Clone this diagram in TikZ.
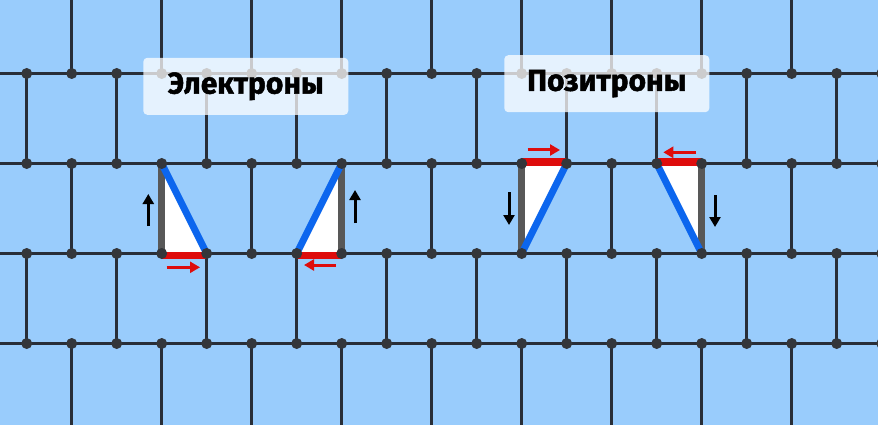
\documentclass[tikz,border=0pt]{standalone}
\usepackage{fontspec}
\setmainfont{Fira Sans}
\newfontfamily\labelfont{Fira Sans Bold}[FakeBold=1.6]
\usetikzlibrary{arrows.meta}
\definecolor{bg}{RGB}{153,204,252}
\definecolor{gridc}{RGB}{40,46,56}
\definecolor{dotc}{RGB}{52,54,58}
\definecolor{edgegray}{RGB}{88,88,88}
\definecolor{eblue}{RGB}{12,102,238}
\definecolor{ered}{RGB}{222,12,12}
\begin{document}
\begin{tikzpicture}[x=1pt,y=-1pt,
  gridline/.style={draw=gridc, line width=2.6pt},
  dot/.style={circle, fill=dotc, inner sep=0pt, minimum size=11pt},
  grayedge/.style={draw=edgegray, line width=7pt},
  blueedge/.style={draw=eblue, line width=7pt},
  rededge/.style={draw=ered, line width=7pt},
  blackarrow/.style={draw=black, line width=3pt, -{Triangle[length=10pt,width=11pt]}},
  redarrow/.style={draw=ered, line width=3pt, -{Triangle[length=10pt,width=11pt]}},
  label/.style={fill=white, fill opacity=0.75, text opacity=1, rounded corners=4pt,
    minimum width=205pt, minimum height=57pt, inner sep=0pt,
    font=\labelfont\fontsize{30}{30}\selectfont}]
\fill[bg] (0,0) rectangle (878,425);
\useasboundingbox (0,0) rectangle (878,425);
% lattice points
\foreach \i in {0,...,19}
  \foreach \j in {0,...,3}
    \coordinate (p\i-\j) at ({26.7+45*\i},{73.5+90*\j});
\foreach \i in {0,...,19} {
  \coordinate (t\i) at ({26.7+45*\i},0);
  \coordinate (b\i) at ({26.7+45*\i},425);
}
% horizontal lines
\foreach \j in {0,...,3}
  \draw[gridline] (0,{73.5+90*\j}) -- (878,{73.5+90*\j});
% vertical segments (brick pattern)
\foreach \i in {1,3,...,19} {
  \draw[gridline] (t\i) -- (p\i-0);
  \draw[gridline] (p\i-1) -- (p\i-2);
  \draw[gridline] (p\i-3) -- (b\i);
}
\foreach \i in {0,2,...,18} {
  \draw[gridline] (p\i-0) -- (p\i-1);
  \draw[gridline] (p\i-2) -- (p\i-3);
}
% electron 1
\fill[white] (p3-1) -- (p3-2) -- (p4-2) -- cycle;
\draw[grayedge] (p3-1) -- (p3-2);
\draw[blueedge] (p3-1) -- (p4-2);
\draw[rededge] ([yshift=-1.5pt]p3-2) -- ([yshift=-1.5pt]p4-2);
% electron 2
\fill[white] (p7-1) -- (p7-2) -- (p6-2) -- cycle;
\draw[grayedge] (p7-1) -- (p7-2);
\draw[blueedge] (p7-1) -- (p6-2);
\draw[rededge] ([yshift=-1.5pt]p6-2) -- ([yshift=-1.5pt]p7-2);
% positron 1
\fill[white] (p11-1) -- (p12-1) -- (p11-2) -- cycle;
\draw[grayedge] (p11-1) -- (p11-2);
\draw[blueedge] (p12-1) -- (p11-2);
\draw[rededge] ([yshift=1.5pt]p11-1) -- ([yshift=1.5pt]p12-1);
% positron 2
\fill[white] (p14-1) -- (p15-1) -- (p15-2) -- cycle;
\draw[grayedge] (p15-1) -- (p15-2);
\draw[blueedge] (p14-1) -- (p15-2);
\draw[rededge] ([yshift=1.5pt]p14-1) -- ([yshift=1.5pt]p15-1);
% dots
\foreach \i in {0,...,19}
  \foreach \j in {0,...,3}
    \node[dot] (d\i-\j) at (p\i-\j) {};
% arrows
\coordinate (ea1) at (148.3,226); \coordinate (ea2) at (148.3,194);
\coordinate (er1) at (166.7,267.3); \coordinate (er2) at (200,267.3);
\coordinate (fa1) at (355,223); \coordinate (fa2) at (355,190);
\coordinate (fr1) at (336,265); \coordinate (fr2) at (304,265);
\coordinate (pa1) at (509,192); \coordinate (pa2) at (509,225);
\coordinate (pr1) at (527.7,150); \coordinate (pr2) at (560,150);
\coordinate (qa1) at (715,195); \coordinate (qa2) at (715,227);
\coordinate (qr1) at (696,152.3); \coordinate (qr2) at (663.3,152.3);
\draw[blackarrow] (ea1) -- (ea2);
\draw[redarrow] (er1) -- (er2);
\draw[blackarrow] (fa1) -- (fa2);
\draw[redarrow] (fr1) -- (fr2);
\draw[blackarrow] (pa1) -- (pa2);
\draw[redarrow] (pr1) -- (pr2);
\draw[blackarrow] (qa1) -- (qa2);
\draw[redarrow] (qr1) -- (qr2);
% labels
\node[label] (lel) at (245.8,86.3) {Электроны};
\node[label] (lpos) at (606.8,83.7) {Позитроны};
\end{tikzpicture}
\end{document}
